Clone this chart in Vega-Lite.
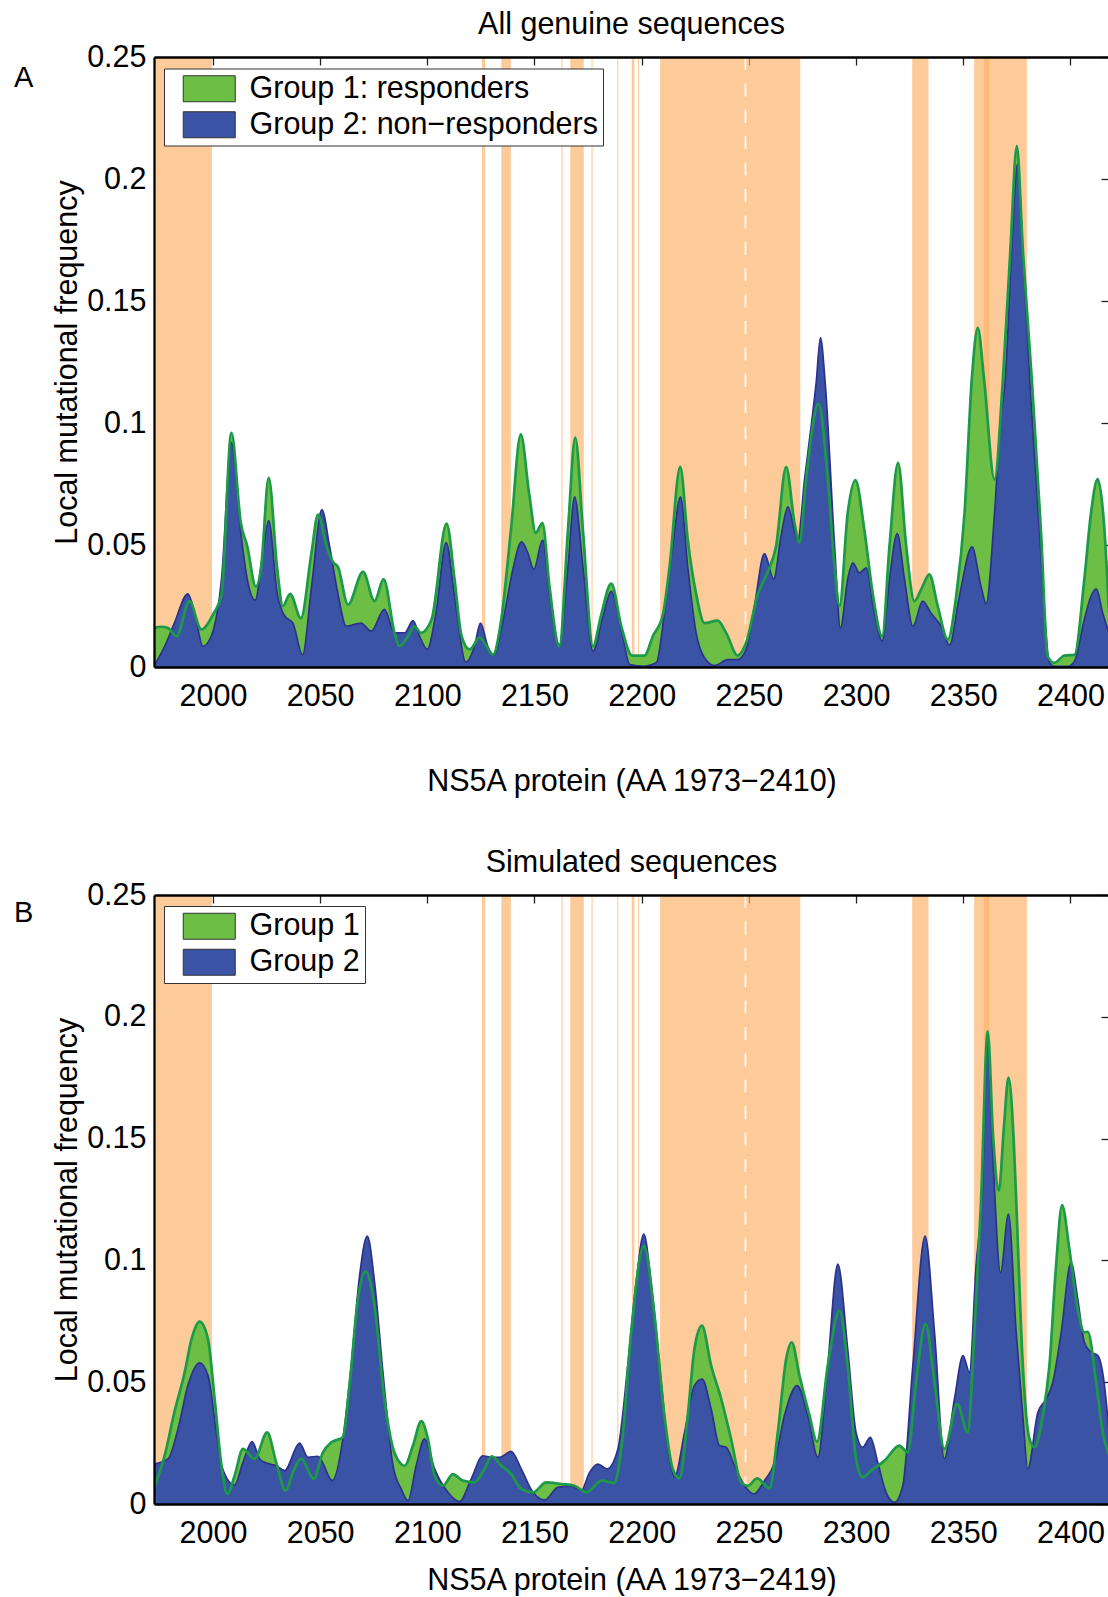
{
"$schema": "https://vega.github.io/schema/vega-lite/v6.json",
"background": "white",
"padding": {"left": 13, "top": 10, "right": 0, "bottom": 0},
"config": {
  "font": "Liberation Sans",
  "view": {"stroke": null},
  "axis": {"grid": false, "labelFont": "Liberation Sans", "titleFont": "Liberation Sans", "labelColor": "black", "titleColor": "black", "labelFontSize": 30.5, "titleFontSize": 30.5, "titleFontWeight": "normal", "domainColor": "black", "domainWidth": 2.3, "tickColor": "#222", "tickWidth": 1.3},
  "title": {"font": "Liberation Sans", "fontSize": 30.5, "fontWeight": "normal", "color": "black", "baseline": "alphabetic", "offset": 1.5, "anchor": "middle", "frame": "group"}
},
"datasets": {
  "bands": [
    {"start": 1972.5, "end": 1999.5}, {"start": 2125.5, "end": 2127}, {"start": 2134.5, "end": 2139},
    {"start": 2162.6, "end": 2163.1}, {"start": 2166.7, "end": 2173}, {"start": 2176.6, "end": 2177.1},
    {"start": 2188.6, "end": 2189.1}, {"start": 2195.4, "end": 2196.6}, {"start": 2198.3, "end": 2198.8},
    {"start": 2208.6, "end": 2274}, {"start": 2326.2, "end": 2333.8}, {"start": 2355.1, "end": 2379.7},
    {"start": 2359.6, "end": 2362.2}
  ],
  "divider": [{"aa": 2248.4}],
  "a_g1": [
    {"aa":1972.5,"freq":0.016},{"aa":1976,"freq":0.0165},{"aa":1979,"freq":0.016},{"aa":1983,"freq":0.0126},{"aa":1989,"freq":0.027},{"aa":1994.6,"freq":0.0154},{"aa":2000,"freq":0.0215},{"aa":2004,"freq":0.03},{"aa":2008.6,"freq":0.096},{"aa":2013,"freq":0.059},{"aa":2016,"freq":0.0495},{"aa":2020,"freq":0.033},{"aa":2022.5,"freq":0.041},{"aa":2026,"freq":0.0775},{"aa":2030,"freq":0.04},{"aa":2032.6,"freq":0.025},{"aa":2036,"freq":0.03},{"aa":2041,"freq":0.02},{"aa":2046,"freq":0.047},{"aa":2049,"freq":0.0625},{"aa":2053,"freq":0.0495},{"aa":2056,"freq":0.043},{"aa":2058.3,"freq":0.041},{"aa":2063,"freq":0.0256},{"aa":2070,"freq":0.039},{"aa":2075.4,"freq":0.027},{"aa":2079.6,"freq":0.036},{"aa":2084.7,"freq":0.014},{"aa":2087,"freq":0.0085},{"aa":2091,"freq":0.0126},{"aa":2094,"freq":0.0167},{"aa":2097,"freq":0.014},{"aa":2102,"freq":0.0195},{"aa":2109,"freq":0.0588},{"aa":2112.7,"freq":0.036},{"aa":2116,"freq":0.0126},{"aa":2119.7,"freq":0.0072},{"aa":2124.4,"freq":0.012},{"aa":2126.7,"freq":0.0099},{"aa":2130.6,"freq":0.005},{"aa":2134.5,"freq":0.0195},{"aa":2139,"freq":0.056},{"aa":2143.6,"freq":0.0953},{"aa":2147.5,"freq":0.071},{"aa":2150.6,"freq":0.055},{"aa":2153.7,"freq":0.059},{"aa":2157,"freq":0.033},{"aa":2161.6,"freq":0.0085},{"aa":2165.6,"freq":0.056},{"aa":2169,"freq":0.094},{"aa":2172.6,"freq":0.056},{"aa":2177.3,"freq":0.0085},{"aa":2181,"freq":0.021},{"aa":2185.8,"freq":0.0342},{"aa":2190.5,"freq":0.0167},{"aa":2195.5,"freq":0.0047},{"aa":2201.3,"freq":0.0047},{"aa":2205.2,"freq":0.0126},{"aa":2209.9,"freq":0.0215},{"aa":2213,"freq":0.041},{"aa":2218,"freq":0.082},{"aa":2221.5,"freq":0.052},{"aa":2225.4,"freq":0.03},{"aa":2229.3,"freq":0.018},{"aa":2235.5,"freq":0.019},{"aa":2239.4,"freq":0.014},{"aa":2244.8,"freq":0.0047},{"aa":2248.7,"freq":0.0099},{"aa":2254.2,"freq":0.03},{"aa":2258.8,"freq":0.039},{"aa":2262.7,"freq":0.0495},{"aa":2267.4,"freq":0.082},{"aa":2271.3,"freq":0.059},{"aa":2273.6,"freq":0.051},{"aa":2276.7,"freq":0.077},{"aa":2282.5,"freq":0.108},{"aa":2286.8,"freq":0.077},{"aa":2290,"freq":0.041},{"aa":2292.3,"freq":0.025},{"aa":2296.1,"freq":0.063},{"aa":2299.7,"freq":0.0766},{"aa":2303.9,"freq":0.056},{"aa":2307.8,"freq":0.03},{"aa":2312.2,"freq":0.0126},{"aa":2315.6,"freq":0.0495},{"aa":2319.6,"freq":0.0837},{"aa":2323.4,"freq":0.0495},{"aa":2327.2,"freq":0.027},{"aa":2330.4,"freq":0.0318},{"aa":2334.2,"freq":0.038},{"aa":2338.1,"freq":0.025},{"aa":2342.8,"freq":0.0113},{"aa":2346.7,"freq":0.029},{"aa":2350.6,"freq":0.063},{"aa":2354,"freq":0.118},{"aa":2356.8,"freq":0.139},{"aa":2359.7,"freq":0.118},{"aa":2364.6,"freq":0.0768},{"aa":2368.4,"freq":0.1165},{"aa":2372,"freq":0.171},{"aa":2375,"freq":0.2135},{"aa":2377.8,"freq":0.171},{"aa":2382.1,"freq":0.1165},{"aa":2386.3,"freq":0.055},{"aa":2389.4,"freq":0.0044},{"aa":2392.5,"freq":0.0017},{"aa":2397.2,"freq":0.0047},{"aa":2401.9,"freq":0.005},{"aa":2406.5,"freq":0.036},{"aa":2409.6,"freq":0.063},{"aa":2412.7,"freq":0.077},{"aa":2415.9,"freq":0.056},{"aa":2418,"freq":0.022}
  ],
  "a_g2": [
    {"aa":1972.5,"freq":0.0005},{"aa":1977.5,"freq":0.0085},{"aa":1982,"freq":0.018},{"aa":1988.3,"freq":0.03},{"aa":1991.5,"freq":0.022},{"aa":1995.3,"freq":0.0085},{"aa":1999.2,"freq":0.0126},{"aa":2004,"freq":0.036},{"aa":2008.6,"freq":0.092},{"aa":2013,"freq":0.055},{"aa":2016,"freq":0.036},{"aa":2019.7,"freq":0.0274},{"aa":2023.3,"freq":0.047},{"aa":2026,"freq":0.06},{"aa":2030,"freq":0.03},{"aa":2033.4,"freq":0.021},{"aa":2037.3,"freq":0.018},{"aa":2041.8,"freq":0.005},{"aa":2046,"freq":0.033},{"aa":2050.8,"freq":0.0645},{"aa":2054.4,"freq":0.0495},{"aa":2058.3,"freq":0.03},{"aa":2062.2,"freq":0.0167},{"aa":2069,"freq":0.018},{"aa":2073.8,"freq":0.0147},{"aa":2080,"freq":0.0236},{"aa":2084.7,"freq":0.014},{"aa":2089.4,"freq":0.014},{"aa":2093.3,"freq":0.019},{"aa":2096.4,"freq":0.0126},{"aa":2100,"freq":0.0072},{"aa":2104,"freq":0.022},{"aa":2108.8,"freq":0.051},{"aa":2112.7,"freq":0.029},{"aa":2118,"freq":0.002},{"aa":2122,"freq":0.0085},{"aa":2124.8,"freq":0.018},{"aa":2128.2,"freq":0.0085},{"aa":2131,"freq":0.005},{"aa":2136,"freq":0.022},{"aa":2139.9,"freq":0.04},{"aa":2144,"freq":0.0513},{"aa":2146.8,"freq":0.047},{"aa":2149.7,"freq":0.04},{"aa":2153.8,"freq":0.052},{"aa":2157,"freq":0.03},{"aa":2161.6,"freq":0.009},{"aa":2165.6,"freq":0.041},{"aa":2168.7,"freq":0.0697},{"aa":2172.6,"freq":0.041},{"aa":2177.3,"freq":0.0065},{"aa":2182,"freq":0.021},{"aa":2185.8,"freq":0.031},{"aa":2190.5,"freq":0.0154},{"aa":2194.5,"freq":0.001},{"aa":2201.3,"freq":0.0003},{"aa":2206.8,"freq":0.0017},{"aa":2210.6,"freq":0.022},{"aa":2214.5,"freq":0.0495},{"aa":2218.1,"freq":0.0697},{"aa":2221.5,"freq":0.041},{"aa":2225.4,"freq":0.014},{"aa":2229.3,"freq":0.0038},{"aa":2234,"freq":0.0006},{"aa":2240.2,"freq":0.003},{"aa":2244.8,"freq":0.003},{"aa":2248.7,"freq":0.0072},{"aa":2252.6,"freq":0.025},{"aa":2257.3,"freq":0.0465},{"aa":2261.6,"freq":0.036},{"aa":2265,"freq":0.0536},{"aa":2268.2,"freq":0.0656},{"aa":2272.8,"freq":0.052},{"aa":2276,"freq":0.077},{"aa":2279.8,"freq":0.104},{"aa":2281.4,"freq":0.1165},{"aa":2283.4,"freq":0.135},{"aa":2285.6,"freq":0.1165},{"aa":2290,"freq":0.0495},{"aa":2292.7,"freq":0.016},{"aa":2296.1,"freq":0.036},{"aa":2298.5,"freq":0.0427},{"aa":2301.6,"freq":0.0386},{"aa":2304.7,"freq":0.0406},{"aa":2308.6,"freq":0.022},{"aa":2312.2,"freq":0.0106},{"aa":2315.6,"freq":0.036},{"aa":2319.2,"freq":0.0547},{"aa":2322.6,"freq":0.036},{"aa":2326.5,"freq":0.0167},{"aa":2331.1,"freq":0.027},{"aa":2335,"freq":0.022},{"aa":2339.7,"freq":0.0167},{"aa":2343.6,"freq":0.009},{"aa":2348.2,"freq":0.029},{"aa":2354.1,"freq":0.0492},{"aa":2358.3,"freq":0.033},{"aa":2360.7,"freq":0.026},{"aa":2364.6,"freq":0.063},{"aa":2367.7,"freq":0.104},{"aa":2369.5,"freq":0.1165},{"aa":2372.6,"freq":0.171},{"aa":2375.3,"freq":0.206},{"aa":2377.8,"freq":0.171},{"aa":2381.2,"freq":0.115},{"aa":2386.3,"freq":0.045},{"aa":2390.2,"freq":0.0017},{"aa":2392.5,"freq":0.0003},{"aa":2398.8,"freq":0.0003},{"aa":2401.9,"freq":0.0024},{"aa":2406.5,"freq":0.0195},{"aa":2409.6,"freq":0.029},{"aa":2412.1,"freq":0.032},{"aa":2415.1,"freq":0.022},{"aa":2418,"freq":0.014}
  ],
  "b_g1": [
    {"aa":1972.5,"freq":0.0065},{"aa":1977.5,"freq":0.02},{"aa":1982,"freq":0.0376},{"aa":1986.8,"freq":0.054},{"aa":1990,"freq":0.0677},{"aa":1993.8,"freq":0.0749},{"aa":1997.7,"freq":0.0677},{"aa":2000.8,"freq":0.043},{"aa":2004,"freq":0.0157},{"aa":2006.7,"freq":0.0041},{"aa":2010.1,"freq":0.0116},{"aa":2014,"freq":0.0226},{"aa":2019.4,"freq":0.0185},{"aa":2025.3,"freq":0.0294},{"aa":2029.5,"freq":0.0171},{"aa":2033.9,"freq":0.0055},{"aa":2037.3,"freq":0.013},{"aa":2041.2,"freq":0.0185},{"aa":2047,"freq":0.0103},{"aa":2051.3,"freq":0.0212},{"aa":2055.2,"freq":0.0253},{"aa":2060.6,"freq":0.0274},{"aa":2063.7,"freq":0.0486},{"aa":2067.6,"freq":0.084},{"aa":2071.2,"freq":0.0954},{"aa":2075.4,"freq":0.081},{"aa":2080,"freq":0.043},{"aa":2084.7,"freq":0.021},{"aa":2089.4,"freq":0.0157},{"aa":2093.3,"freq":0.024},{"aa":2097.2,"freq":0.034},{"aa":2100.3,"freq":0.0267},{"aa":2103.4,"freq":0.0116},{"aa":2107.3,"freq":0.0075},{"aa":2111.9,"freq":0.0123},{"aa":2116.6,"freq":0.0096},{"aa":2122,"freq":0.0089},{"aa":2126.7,"freq":0.0144},{"aa":2130.1,"freq":0.0196},{"aa":2134.5,"freq":0.0157},{"aa":2139.1,"freq":0.0123},{"aa":2143.8,"freq":0.0062},{"aa":2149.3,"freq":0.0048},{"aa":2155.5,"freq":0.0089},{"aa":2162.5,"freq":0.0082},{"aa":2168.7,"freq":0.0075},{"aa":2174.2,"freq":0.0048},{"aa":2181.5,"freq":0.0096},{"aa":2187,"freq":0.0086},{"aa":2190.5,"freq":0.0226},{"aa":2195.1,"freq":0.0705},{"aa":2201,"freq":0.106},{"aa":2206,"freq":0.0773},{"aa":2210.6,"freq":0.0363},{"aa":2214.5,"freq":0.0144},{"aa":2217.6,"freq":0.0105},{"aa":2221.5,"freq":0.0363},{"aa":2224.6,"freq":0.0636},{"aa":2228.1,"freq":0.0732},{"aa":2232.4,"freq":0.0568},{"aa":2237.1,"freq":0.0431},{"aa":2241.7,"freq":0.0267},{"aa":2246.4,"freq":0.0089},{"aa":2249.5,"freq":0.0075},{"aa":2253.9,"freq":0.0105},{"aa":2259.6,"freq":0.0064},{"aa":2263.5,"freq":0.0294},{"aa":2267.4,"freq":0.0595},{"aa":2270,"freq":0.0664},{"aa":2273.6,"freq":0.0527},{"aa":2278.3,"freq":0.0363},{"aa":2281.8,"freq":0.0256},{"aa":2286.8,"freq":0.0568},{"aa":2292.3,"freq":0.0794},{"aa":2296.1,"freq":0.0568},{"aa":2300,"freq":0.0185},{"aa":2303.1,"freq":0.011},{"aa":2307,"freq":0.0137},{"aa":2313.3,"freq":0.0178},{"aa":2320.2,"freq":0.024},{"aa":2324.1,"freq":0.0212},{"aa":2328,"freq":0.05},{"aa":2332.4,"freq":0.0739},{"aa":2336.6,"freq":0.05},{"aa":2341.2,"freq":0.0226},{"aa":2347.2,"freq":0.041},{"aa":2352.1,"freq":0.0294},{"aa":2355.2,"freq":0.0705},{"aa":2358.3,"freq":0.124},{"aa":2361.4,"freq":0.194},{"aa":2364,"freq":0.15},{"aa":2366.6,"freq":0.1286},{"aa":2369,"freq":0.155},{"aa":2371.1,"freq":0.175},{"aa":2373.5,"freq":0.15},{"aa":2374.7,"freq":0.125},{"aa":2377.8,"freq":0.0568},{"aa":2380.9,"freq":0.0267},{"aa":2383.2,"freq":0.0233},{"aa":2387.1,"freq":0.0363},{"aa":2390.2,"freq":0.0568},{"aa":2393.3,"freq":0.0978},{"aa":2396.1,"freq":0.1227},{"aa":2399.5,"freq":0.1047},{"aa":2403.4,"freq":0.08},{"aa":2406.5,"freq":0.0705},{"aa":2408.1,"freq":0.0707},{"aa":2412,"freq":0.05},{"aa":2415.1,"freq":0.0294},{"aa":2418,"freq":0.0198}
  ],
  "b_g2": [
    {"aa":1972.5,"freq":0.0164},{"aa":1979,"freq":0.0185},{"aa":1983.7,"freq":0.0308},{"aa":1988.3,"freq":0.0486},{"aa":1993.8,"freq":0.0579},{"aa":1997.7,"freq":0.0527},{"aa":2001.6,"freq":0.0294},{"aa":2004,"freq":0.0157},{"aa":2010.1,"freq":0.0078},{"aa":2014,"freq":0.0171},{"aa":2018.3,"freq":0.0256},{"aa":2021.8,"freq":0.0185},{"aa":2025.3,"freq":0.0167},{"aa":2029.5,"freq":0.0157},{"aa":2033.4,"freq":0.0137},{"aa":2040.4,"freq":0.025},{"aa":2044.3,"freq":0.0192},{"aa":2049,"freq":0.0196},{"aa":2055.7,"freq":0.0096},{"aa":2060.6,"freq":0.0267},{"aa":2064.5,"freq":0.0568},{"aa":2068.4,"freq":0.0937},{"aa":2072,"freq":0.11},{"aa":2075.4,"freq":0.091},{"aa":2079.3,"freq":0.054},{"aa":2084,"freq":0.0157},{"aa":2087.8,"freq":0.0062},{"aa":2091,"freq":0.0014},{"aa":2094.8,"freq":0.0157},{"aa":2098.7,"freq":0.0267},{"aa":2103.4,"freq":0.0144},{"aa":2109.6,"freq":0.0048},{"aa":2115,"freq":0.001},{"aa":2120.5,"freq":0.0103},{"aa":2125.9,"freq":0.0198},{"aa":2129.8,"freq":0.0192},{"aa":2133.7,"freq":0.0192},{"aa":2139.1,"freq":0.0216},{"aa":2143.8,"freq":0.0144},{"aa":2149.3,"freq":0.0048},{"aa":2154.7,"freq":0.0016},{"aa":2160.9,"freq":0.0068},{"aa":2167.1,"freq":0.0073},{"aa":2171.8,"freq":0.0055},{"aa":2175.7,"freq":0.013},{"aa":2179.6,"freq":0.0164},{"aa":2183.8,"freq":0.0144},{"aa":2188.9,"freq":0.0226},{"aa":2193.5,"freq":0.0568},{"aa":2197.4,"freq":0.091},{"aa":2201,"freq":0.1108},{"aa":2204.4,"freq":0.091},{"aa":2209.1,"freq":0.05},{"aa":2213,"freq":0.0185},{"aa":2215.3,"freq":0.011},{"aa":2220,"freq":0.0294},{"aa":2224.6,"freq":0.0486},{"aa":2228.2,"freq":0.0513},{"aa":2232.4,"freq":0.039},{"aa":2236.3,"freq":0.024},{"aa":2239.4,"freq":0.0233},{"aa":2243.3,"freq":0.0157},{"aa":2248,"freq":0.0075},{"aa":2252.3,"freq":0.0041},{"aa":2257.3,"freq":0.0096},{"aa":2262,"freq":0.0171},{"aa":2266.6,"freq":0.0363},{"aa":2272.5,"freq":0.0486},{"aa":2277.5,"freq":0.0363},{"aa":2282.2,"freq":0.0192},{"aa":2286.8,"freq":0.0568},{"aa":2291.5,"freq":0.0985},{"aa":2296.1,"freq":0.0636},{"aa":2300,"freq":0.0294},{"aa":2303.1,"freq":0.0233},{"aa":2306.7,"freq":0.0274},{"aa":2310.1,"freq":0.0171},{"aa":2314,"freq":0.0048},{"aa":2317.9,"freq":0.0007},{"aa":2321.8,"freq":0.0075},{"aa":2326.5,"freq":0.0568},{"aa":2332.2,"freq":0.11},{"aa":2336.6,"freq":0.0705},{"aa":2341.2,"freq":0.0185},{"aa":2345.9,"freq":0.0431},{"aa":2349.9,"freq":0.0609},{"aa":2352.9,"freq":0.054},{"aa":2356,"freq":0.0978},{"aa":2358.7,"freq":0.125},{"aa":2361.4,"freq":0.19},{"aa":2364,"freq":0.14},{"aa":2367.4,"freq":0.095},{"aa":2371.1,"freq":0.119},{"aa":2374.7,"freq":0.0705},{"aa":2377.8,"freq":0.0363},{"aa":2380.1,"freq":0.0144},{"aa":2384.8,"freq":0.0376},{"aa":2388.7,"freq":0.0431},{"aa":2391.8,"freq":0.05},{"aa":2395.7,"freq":0.0705},{"aa":2400.3,"freq":0.0992},{"aa":2403.4,"freq":0.0842},{"aa":2406.5,"freq":0.0664},{"aa":2409.6,"freq":0.0623},{"aa":2412.8,"freq":0.0609},{"aa":2415.9,"freq":0.0486},{"aa":2418,"freq":0.0294}
  ]
},
"spacing": 51,
"resolve": {"scale": {"fill": "independent"}, "legend": {"fill": "independent"}},
"vconcat": [
  {
    "width": 955, "height": 610,
    "title": {"text": "All genuine sequences"},
    "resolve": {"axis": {"x": "independent", "y": "independent"}},
    "layer": [
      {
        "data": {"name": "bands"},
        "mark": {"type": "rect", "fill": "#FBB46B", "opacity": 0.69},
        "encoding": {
          "x": {"field": "start", "type": "quantitative", "scale": {"domain": [1972.5, 2418], "nice": false, "zero": false},
                "axis": {"orient": "bottom", "values": [2000,2050,2100,2150,2200,2250,2300,2350,2400], "format": "d", "ticks": false, "domain": true, "labelPadding": 14, "labelFlush": false, "labelOverlap": false, "title": "NS5A protein (AA 1973−2410)", "titlePadding": 55, "zindex": 1}},
          "x2": {"field": "end"}
        }
      },
      {
        "data": {"name": "divider"},
        "mark": {"type": "rule", "color": "white", "strokeWidth": 1.6, "strokeDash": [13, 13.4]},
        "encoding": {"x": {"field": "aa", "type": "quantitative", "axis": null}}
      },
      {
        "data": {"name": "a_g1"},
        "mark": {"type": "area", "interpolate": "monotone", "clip": true},
        "encoding": {
          "x": {"field": "aa", "type": "quantitative", "axis": {"orient": "top", "ticks": false, "labels": false, "domain": true, "title": null, "zindex": 1}},
          "y": {"field": "freq", "type": "quantitative", "scale": {"domain": [0, 0.25], "nice": false},
                "axis": {"orient": "left", "values": [0,0.05,0.1,0.15,0.2,0.25], "format": "~g", "ticks": false, "domain": true, "labelPadding": 8, "labelFlush": false, "title": "Local mutational frequency", "titlePadding": 4, "zindex": 1}},
          "fill": {"datum": "Group 1: responders", "type": "nominal",
                   "scale": {"domain": ["Group 1: responders", "Group 2: non−responders"], "range": ["#6CBE45", "#3B53A4"]},
                   "legend": {"orient": "none", "legendX": 10, "legendY": 11.5, "title": null, "symbolType": "M-2,-1H2V1H-2Z", "symbolSize": 676, "symbolStrokeColor": "#333", "symbolStrokeWidth": 1, "symbolOpacity": 1, "labelFontSize": 30.5, "labelFont": "Liberation Sans", "labelColor": "black", "labelLimit": 800, "labelOffset": 25, "symbolOffset": 25, "padding": 5, "rowPadding": 5, "strokeColor": "#333", "fillColor": "white", "cornerRadius": 0}}
        }
      },
      {
        "data": {"name": "a_g2"},
        "mark": {"type": "area", "interpolate": "monotone", "clip": true},
        "encoding": {
          "x": {"field": "aa", "type": "quantitative", "axis": {"orient": "top", "values": [2000,2050,2100,2150,2200,2250,2300,2350,2400], "ticks": true, "tickSize": -8, "labels": false, "domain": false, "title": null, "zindex": 0}},
          "y": {"field": "freq", "type": "quantitative", "axis": {"orient": "right", "values": [0,0.05,0.1,0.15,0.2,0.25], "ticks": true, "tickSize": -8, "labels": false, "domain": false, "title": null, "zindex": 0}},
          "fill": {"datum": "Group 2: non−responders", "type": "nominal"}
        }
      },
      {
        "data": {"name": "a_g2"},
        "mark": {"type": "line", "interpolate": "monotone", "color": "#2C328C", "strokeWidth": 1.7, "clip": true},
        "encoding": {
          "x": {"field": "aa", "type": "quantitative", "axis": null},
          "y": {"field": "freq", "type": "quantitative", "axis": null}
        }
      },
      {
        "data": {"name": "a_g1"},
        "mark": {"type": "line", "interpolate": "monotone", "color": "#1C9A48", "strokeWidth": 2.7, "clip": true},
        "encoding": {
          "x": {"field": "aa", "type": "quantitative", "axis": null},
          "y": {"field": "freq", "type": "quantitative", "axis": null}
        }
      },
      {
        "data": {"values": [{"label": "A"}]},
        "mark": {"type": "text", "fontSize": 29, "font": "Liberation Sans", "align": "center", "baseline": "middle", "color": "black"},
        "encoding": {
          "x": {"datum": 1911.7, "type": "quantitative", "axis": null},
          "y": {"datum": 0.2414, "type": "quantitative", "axis": null},
          "text": {"field": "label"}
        }
      }
    ]
  },
  {
    "width": 955, "height": 609,
    "title": {"text": "Simulated sequences"},
    "resolve": {"axis": {"x": "independent", "y": "independent"}},
    "layer": [
      {
        "data": {"name": "bands"},
        "mark": {"type": "rect", "fill": "#FBB46B", "opacity": 0.69},
        "encoding": {
          "x": {"field": "start", "type": "quantitative", "scale": {"domain": [1972.5, 2418], "nice": false, "zero": false},
                "axis": {"orient": "bottom", "values": [2000,2050,2100,2150,2200,2250,2300,2350,2400], "format": "d", "ticks": false, "domain": true, "labelPadding": 14, "labelFlush": false, "labelOverlap": false, "title": "NS5A protein (AA 1973−2419)", "titlePadding": 17, "zindex": 1}},
          "x2": {"field": "end"}
        }
      },
      {
        "data": {"name": "divider"},
        "mark": {"type": "rule", "color": "white", "strokeWidth": 1.6, "strokeDash": [13, 13.4]},
        "encoding": {"x": {"field": "aa", "type": "quantitative", "axis": null}}
      },
      {
        "data": {"name": "b_g1"},
        "mark": {"type": "area", "interpolate": "monotone", "clip": true},
        "encoding": {
          "x": {"field": "aa", "type": "quantitative", "axis": {"orient": "top", "ticks": false, "labels": false, "domain": true, "title": null, "zindex": 1}},
          "y": {"field": "freq", "type": "quantitative", "scale": {"domain": [0, 0.25], "nice": false},
                "axis": {"orient": "left", "values": [0,0.05,0.1,0.15,0.2,0.25], "format": "~g", "ticks": false, "domain": true, "labelPadding": 8, "labelFlush": false, "title": "Local mutational frequency", "titlePadding": 4, "zindex": 1}},
          "fill": {"datum": "Group 1", "type": "nominal",
                   "scale": {"domain": ["Group 1", "Group 2"], "range": ["#6CBE45", "#3B53A4"]},
                   "legend": {"orient": "none", "legendX": 10, "legendY": 11, "title": null, "symbolType": "M-2,-1H2V1H-2Z", "symbolSize": 676, "symbolStrokeColor": "#333", "symbolStrokeWidth": 1, "symbolOpacity": 1, "labelFontSize": 30.5, "labelFont": "Liberation Sans", "labelColor": "black", "labelLimit": 800, "labelOffset": 25, "symbolOffset": 25, "padding": 5, "rowPadding": 5, "strokeColor": "#333", "fillColor": "white", "cornerRadius": 0}}
        }
      },
      {
        "data": {"name": "b_g2"},
        "mark": {"type": "area", "interpolate": "monotone", "clip": true},
        "encoding": {
          "x": {"field": "aa", "type": "quantitative", "axis": {"orient": "top", "values": [2000,2050,2100,2150,2200,2250,2300,2350,2400], "ticks": true, "tickSize": -8, "labels": false, "domain": false, "title": null, "zindex": 0}},
          "y": {"field": "freq", "type": "quantitative", "axis": {"orient": "right", "values": [0,0.05,0.1,0.15,0.2,0.25], "ticks": true, "tickSize": -8, "labels": false, "domain": false, "title": null, "zindex": 0}},
          "fill": {"datum": "Group 2", "type": "nominal"}
        }
      },
      {
        "data": {"name": "b_g2"},
        "mark": {"type": "line", "interpolate": "monotone", "color": "#2C328C", "strokeWidth": 1.7, "clip": true},
        "encoding": {
          "x": {"field": "aa", "type": "quantitative", "axis": null},
          "y": {"field": "freq", "type": "quantitative", "axis": null}
        }
      },
      {
        "data": {"name": "b_g1"},
        "mark": {"type": "line", "interpolate": "monotone", "color": "#1C9A48", "strokeWidth": 2.7, "clip": true},
        "encoding": {
          "x": {"field": "aa", "type": "quantitative", "axis": null},
          "y": {"field": "freq", "type": "quantitative", "axis": null}
        }
      },
      {
        "data": {"values": [{"label": "B"}]},
        "mark": {"type": "text", "fontSize": 29, "font": "Liberation Sans", "align": "center", "baseline": "middle", "color": "black"},
        "encoding": {
          "x": {"datum": 1911.7, "type": "quantitative", "axis": null},
          "y": {"datum": 0.2428, "type": "quantitative", "axis": null},
          "text": {"field": "label"}
        }
      }
    ]
  }
]
}
